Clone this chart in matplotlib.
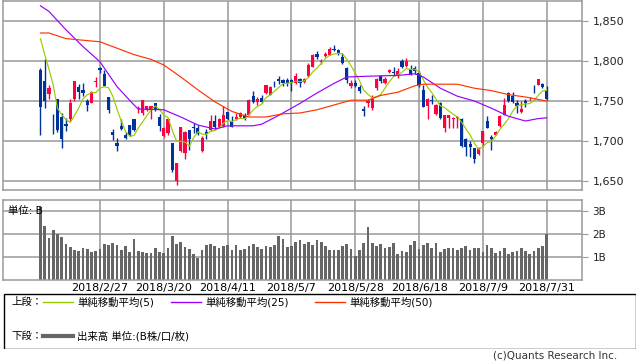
import numpy as np
import pandas as pd
import matplotlib
matplotlib.use('Agg')
import matplotlib.pyplot as plt
from matplotlib.lines import Line2D
from matplotlib.patches import Rectangle

plt.rcParams['font.family'] = ['DejaVu Sans', 'Noto Sans CJK JP']

# trading days 2018/2/6 - 2018/7/31 (TSE holidays removed)
holidays = ['2018-02-12', '2018-03-21', '2018-04-30', '2018-05-03', '2018-05-04', '2018-07-16']
days = pd.bdate_range('2018-02-06', '2018-07-31')
days = days[~days.isin(pd.to_datetime(holidays))]

opens = [1789, 1775, 1759, 1733, 1752, 1730, 1721, 1728, 1752, 1768,
         1764, 1750, 1748, 1774, 1791, 1784, 1755, 1711, 1698, 1719,
         1708, 1720, 1728, 1740, 1735, 1739, 1739, 1748, 1730, 1706,
         1710, 1697, 1650, 1687, 1685, 1714, 1718, 1716, 1688, 1711,
         1714, 1725, 1717, 1719, 1736, 1725, 1727, 1730, 1733, 1733,
         1756, 1749, 1754, 1760, 1758, 1773, 1778, 1776, 1776, 1776,
         1772, 1777, 1774, 1781, 1793, 1809, 1799, 1806, 1808, 1815,
         1814, 1805, 1791, 1769, 1773, 1768, 1740, 1748, 1741, 1766,
         1781, 1772, 1786, 1786, 1783, 1800, 1794, 1790, 1791, 1785,
         1764, 1744, 1751, 1734, 1748, 1716, 1729, 1727, 1729, 1727,
         1702, 1696, 1691, 1684, 1697, 1725, 1705, 1708, 1719, 1733,
         1760, 1756, 1748, 1736, 1750, 1752, 1768, 1770, 1771, 1764]
highs = [1791, 1802, 1770, 1734, 1752, 1735, 1729, 1752, 1775, 1771,
         1772, 1752, 1763, 1780, 1793, 1789, 1755, 1715, 1704, 1728,
         1711, 1720, 1728, 1744, 1751, 1744, 1744, 1748, 1734, 1717,
         1729, 1697, 1672, 1718, 1712, 1714, 1722, 1720, 1706, 1715,
         1733, 1733, 1729, 1744, 1736, 1731, 1735, 1736, 1735, 1752,
         1762, 1755, 1758, 1770, 1769, 1775, 1781, 1778, 1779, 1777,
         1785, 1779, 1779, 1797, 1809, 1812, 1802, 1811, 1818, 1820,
         1815, 1810, 1793, 1776, 1776, 1770, 1744, 1752, 1757, 1779,
         1783, 1780, 1790, 1793, 1791, 1802, 1804, 1795, 1794, 1787,
         1770, 1754, 1758, 1746, 1749, 1733, 1733, 1730, 1731, 1729,
         1704, 1700, 1691, 1692, 1712, 1731, 1708, 1712, 1732, 1754,
         1761, 1761, 1751, 1750, 1752, 1755, 1770, 1777, 1773, 1769]
lows = [1707, 1741, 1752, 1709, 1711, 1691, 1712, 1725, 1750, 1752,
        1756, 1737, 1747, 1768, 1785, 1769, 1735, 1701, 1687, 1714,
        1703, 1706, 1712, 1735, 1733, 1738, 1727, 1738, 1712, 1705,
        1708, 1661, 1645, 1686, 1677, 1689, 1710, 1707, 1686, 1702,
        1713, 1715, 1716, 1718, 1726, 1717, 1726, 1729, 1726, 1733,
        1748, 1745, 1748, 1759, 1757, 1768, 1771, 1769, 1769, 1763,
        1771, 1768, 1772, 1780, 1792, 1802, 1796, 1805, 1807, 1812,
        1808, 1796, 1773, 1766, 1767, 1760, 1731, 1742, 1739, 1764,
        1772, 1771, 1785, 1781, 1779, 1791, 1793, 1782, 1784, 1767,
        1743, 1728, 1746, 1733, 1727, 1711, 1716, 1716, 1716, 1693,
        1681, 1680, 1672, 1683, 1694, 1716, 1689, 1707, 1718, 1732,
        1749, 1748, 1735, 1735, 1743, 1751, 1760, 1770, 1766, 1751]
closes = [1743, 1750, 1766, 1732, 1714, 1703, 1719, 1748, 1775, 1761,
          1760, 1745, 1761, 1775, 1789, 1769, 1739, 1708, 1694, 1715,
          1704, 1708, 1714, 1741, 1751, 1744, 1744, 1739, 1719, 1716,
          1728, 1664, 1672, 1718, 1711, 1703, 1716, 1709, 1704, 1709,
          1725, 1717, 1727, 1733, 1727, 1717, 1730, 1735, 1729, 1751,
          1749, 1752, 1749, 1770, 1768, 1772, 1775, 1773, 1773, 1772,
          1781, 1772, 1777, 1795, 1807, 1805, 1800, 1809, 1815, 1814,
          1810, 1797, 1776, 1773, 1769, 1762, 1737, 1750, 1752, 1777,
          1775, 1777, 1789, 1785, 1787, 1792, 1800, 1783, 1787, 1770,
          1743, 1753, 1750, 1745, 1729, 1732, 1732, 1729, 1730, 1694,
          1692, 1693, 1677, 1691, 1712, 1716, 1702, 1711, 1731, 1745,
          1750, 1749, 1744, 1740, 1748, 1753, 1767, 1777, 1767, 1753]
# closes of the 4 sessions before the window (needed for the 5-day average)
pre_closes = [1850, 1856, 1832, 1859]

volume = [3.19, 2.35, 1.83, 2.16, 1.99, 1.86, 1.57, 1.42, 1.29, 1.25,
          1.38, 1.34, 1.21, 1.25, 1.34, 1.55, 1.51, 1.60, 1.51, 1.29,
          1.47, 1.21, 1.77, 1.25, 1.21, 1.17, 1.17, 1.38, 1.21, 1.17,
          1.38, 1.90, 1.55, 1.64, 1.42, 1.34, 1.12, 0.95, 1.29, 1.51,
          1.55, 1.47, 1.38, 1.47, 1.51, 1.29, 1.51, 1.29, 1.34, 1.47,
          1.55, 1.42, 1.34, 1.47, 1.42, 1.51, 1.90, 1.77, 1.42, 1.47,
          1.64, 1.73, 1.55, 1.64, 1.51, 1.73, 1.64, 1.47, 1.29, 1.29,
          1.29, 1.47, 1.55, 1.34, 1.04, 1.29, 1.60, 2.29, 1.60, 1.47,
          1.55, 1.38, 1.42, 1.60, 1.12, 1.25, 1.21, 1.51, 1.68, 1.34,
          1.51, 1.60, 1.38, 1.60, 1.21, 1.34, 1.38, 1.38, 1.29, 1.38,
          1.47, 1.29, 1.38, 1.38, 1.21, 1.51, 1.38, 1.17, 1.25, 1.38,
          1.12, 1.21, 1.25, 1.38, 1.25, 1.12, 1.25, 1.38, 1.47, 1.99]

# 25 / 50 day averages (session index, value)
ma25_idx = [0, 2, 6, 10, 14, 18, 22, 23, 29, 33, 37, 41, 44, 50, 52, 56,
            61, 65, 69, 72, 77, 84, 88, 90, 94, 98, 102, 106, 110, 114, 117, 119]
ma25_val = [1869, 1862, 1839, 1818, 1799, 1768, 1745, 1740, 1739, 1730, 1720,
            1715, 1719, 1719, 1721, 1732, 1747, 1760, 1772, 1780, 1781, 1782,
            1784, 1780, 1766, 1756, 1750, 1741, 1731, 1725, 1728, 1729]
ma50_idx = [0, 2, 6, 14, 18, 22, 26, 29, 33, 37, 41, 45, 49, 53, 57, 61,
            65, 69, 73, 77, 80, 84, 88, 90, 98, 102, 106, 110, 114, 119]
ma50_val = [1835, 1835, 1828, 1824, 1816, 1808, 1802, 1795, 1780, 1764, 1749,
            1737, 1730, 1730, 1734, 1735, 1739, 1745, 1751, 1751, 1757, 1761,
            1769, 1771, 1771, 1766, 1763, 1758, 1755, 1750]

tick_labels = ['2018/2/27', '2018/3/20', '2018/4/11', '2018/5/7',
               '2018/5/28', '2018/6/18', '2018/7/9', '2018/7/31']

UP, DOWN = '#ff0040', '#003399'
C5, C25, C50 = '#99cc00', '#9900ff', '#ff3300'
GRID = '#999999'

o = np.array(opens, float)
h = np.array(highs, float)
l = np.array(lows, float)
c = np.array(closes, float)
x = np.arange(len(days))
ma5 = pd.Series(pre_closes + closes).rolling(5).mean().values[len(pre_closes):]

labels = [f'{d.year}/{d.month}/{d.day}' for d in days]
tick_pos = [labels.index(t) for t in tick_labels]

fig = plt.figure(figsize=(6.38, 3.62), dpi=100)
W, H = 638, 362
ax = fig.add_axes([3 / W, 1 - 190 / H, 579 / W, 189 / H])
axv = fig.add_axes([3 / W, 1 - 280 / H, 579 / W, 80 / H])
xlim = (-8.8, 127.3)

for a in (ax, axv):
    a.set_xlim(*xlim)
    a.set_xticks(tick_pos)
    a.grid(True, color=GRID, lw=1.1, zorder=0)
    a.set_axisbelow(True)
    for s in a.spines.values():
        s.set_color(GRID)
        s.set_linewidth(1.1)
    a.yaxis.tick_right()
    a.tick_params(axis='y', length=4, color=GRID, pad=3.5, labelsize=8, labelcolor='#222222')
    a.tick_params(axis='x', length=0)

# price panel
up = c >= o
col = np.where(up, UP, DOWN)
ax.vlines(x, l, h, colors=col, lw=1.0, zorder=2)
body_lo = np.minimum(o, c)
body_h = np.maximum(np.abs(c - o), 1.0)
ax.bar(x, body_h, bottom=body_lo, width=0.75, color=col, lw=0, zorder=3)
ax.plot(x, ma5, color=C5, lw=0.85, zorder=4)
ax.plot(ma25_idx, ma25_val, color=C25, lw=0.85, zorder=4)
ax.plot(ma50_idx, ma50_val, color=C50, lw=0.85, zorder=4)
ax.set_ylim(1638.75, 1875)
ax.set_yticks([1650, 1700, 1750, 1800, 1850])
ax.set_yticklabels([f'{v:,}' for v in [1650, 1700, 1750, 1800, 1850]])
ax.set_xticklabels([])

# volume panel
axv.bar(x, volume, width=0.64, color='#666666', lw=0, zorder=2)
axv.set_ylim(0, 3.48)
axv.set_yticks([1, 2, 3])
axv.set_yticklabels(['1B', '2B', '3B'], fontsize=7.5)
axv.set_xticklabels(tick_labels, fontsize=8)
axv.tick_params(axis='x', pad=2)
axv.text(0.008, 0.86, '単位: B', transform=axv.transAxes, fontsize=7.5,
         ha='left', va='center', zorder=5)

# legend box
lg = fig.add_axes([3 / W, 1 - 349 / H, 633 / W, 56 / H])
lg.set_xlim(0, 633)
lg.set_ylim(56, 0)
lg.axis('off')
lg.add_patch(Rectangle((0.5, 0.5), 632, 55, fill=False, ec='black', lw=1.0))
fs = 7.5
ty1, ty2 = 9, 43
lg.text(8, ty1, '上段：', fontsize=fs, va='center')
lg.text(8, ty2, '下段：', fontsize=fs, va='center')
for x0, color, txt in [(40, C5, '単純移動平均(5)'), (168, C25, '単純移動平均(25)'),
                       (312, C50, '単純移動平均(50)')]:
    lg.add_line(Line2D([x0, x0 + 30], [ty1, ty1], color=color, lw=1.0))
    lg.text(x0 + 34, ty1, txt, fontsize=fs, va='center')
lg.add_line(Line2D([40, 70], [ty2, ty2], color='#666666', lw=3.0))
lg.text(74, ty2, '出来高 単位:(B株/口/枚)', fontsize=fs, va='center')

fig.text(617 / W, 1 - 356 / H, '(c)Quants Research Inc.', fontsize=7.5,
         ha='right', va='center', color='#333333')

fig.savefig('out.png', dpi=100)
